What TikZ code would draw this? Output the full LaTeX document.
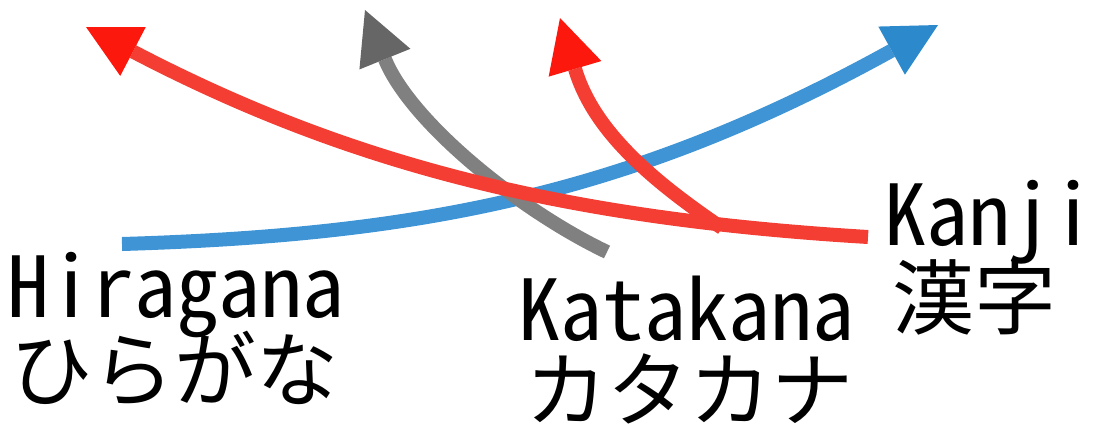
\documentclass[tikz,border=0pt]{standalone}
\usepackage{fontspec}
\newfontfamily\jpfont{Noto Sans CJK JP}
\newfontfamily\latinfont{Noto Sans CJK JP}[RawFeature=+hwid]
\usetikzlibrary{arrows.meta}
\def\halfloop#1{\ifx#1\relax\else\makebox[0.5em]{#1}\expandafter\halfloop\fi}
\newcommand\halfcells[1]{\halfloop#1\relax}
\definecolor{redline}{RGB}{244,62,52}
\definecolor{redtip}{RGB}{252,24,12}
\definecolor{blueline}{RGB}{62,148,212}
\definecolor{bluetip}{RGB}{43,137,204}
\definecolor{grayline}{RGB}{128,128,128}
\definecolor{graytip}{RGB}{102,102,102}
\tikzset{
  lbl/.style={inner sep=0pt, outer sep=0pt, anchor=base west, text=black},
  latin/.style={lbl, font=\fontsize{84}{86}\selectfont\latinfont},
  kana/.style={lbl, font=\fontsize{82}{84}\selectfont\jpfont},
  conn/.style={line width=14pt},
  head/.style={-{Triangle[length=53pt,width=55pt,line width=0pt,color=#1]}}
}
\begin{document}
\begin{tikzpicture}[x=1pt,y=-1pt]
\useasboundingbox (0,0) rectangle (1094,429);
% labels
\node[latin] (hira)    at (8,317)   {\halfcells{Hiragana}};
\node[kana]  (hirajp)  at (10,400)  {ひらがな};
\node[latin] (kata)    at (518,340) {\halfcells{Katakana}};
\node[kana]  (katajp)  at (525,420) {カタカナ};
\node[latin] (kanji)   at (884,245) {\halfcells{Kanji}};
\node[kana]  (kanjijp) at (892,328) {漢字};
% connector ends
\coordinate (hs) at (122,244);
\coordinate (bt) at (938,25);
\coordinate (gs) at (607,252);
\coordinate (gt) at (365,10);
\coordinate (ks) at (868,237);
\coordinate (rt1) at (86,27);
\coordinate (kj) at (722,228);
\coordinate (rt2) at (560,18);
% connectors
\draw[conn, blueline, head=bluetip] (hs) .. controls (422,235) and (632,194) .. (bt);
\draw[conn, grayline, head=graytip] (gs) .. controls (517,209) and (410,121) .. (gt);
\draw[conn, redline, head=redtip] (ks) .. controls (568,219) and (352,166) .. (rt1);
\draw[conn, redline, head=redtip] (kj) .. controls (656,183) and (594,133) .. (rt2);
\end{tikzpicture}
\end{document}
